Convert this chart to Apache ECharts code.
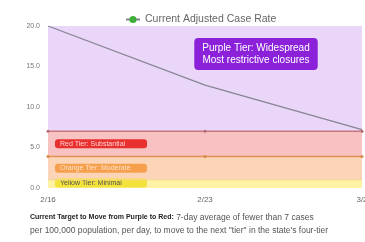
<!DOCTYPE html>
<html>
<head>
<meta charset="utf-8">
<script src="https://cdn.jsdelivr.net/npm/echarts@6/dist/echarts.min.js"></script>
<style>
  html, body { margin: 0; padding: 0; background: #fff; }
  #chart { width: 365px; height: 242px; }
</style>
</head>
<body>
<div id="chart"></div>
<script>
var dates = ['2/16', '2/23', '3/2'];
var caseRate = [20.0, 12.7, 7.2];
var redLine = [7, 7, 7];
var orangeLine = [3.9, 3.9, 3.9];
var yellowLine = [1, 1, 1];
// tiers: [from, to, label]
var tierPurple = [7, 20, 'Purple Tier: Widespread\nMost restrictive closures'];
var tierRed = [3.9, 7, 'Red Tier: Substantial'];
var tierOrange = [1, 3.9, 'Orange Tier: Moderate'];
var tierYellow = [0, 1, 'Yellow Tier: Minimal'];

var myChart = echarts.init(document.getElementById('chart'));

function tierLabel(bg, fg, offset) {
  return {
    show: true,
    position: 'insideLeft',
    offset: offset,
    backgroundColor: bg,
    color: fg,
    fontSize: 7,
    fontFamily: 'Liberation Sans',
    padding: [1, 5],
    width: 82,
    borderRadius: 3
  };
}

var option = {
  animation: false,
  legend: {
    top: 9,
    left: 120,
    data: ['Current Adjusted Case Rate'],
    itemWidth: 14,
    itemHeight: 9,
    textStyle: { fontSize: 10.5, color: '#666', fontFamily: 'Liberation Sans' }
  },
  grid: { left: 48, right: 3, top: 26, bottom: 54, outerBoundsMode: 'none' },
  xAxis: {
    type: 'category',
    boundaryGap: false,
    data: dates,
    axisLine: { show: false },
    axisTick: { show: false },
    axisLabel: { fontSize: 8, color: '#666', margin: 8 }
  },
  yAxis: {
    type: 'value',
    min: 0,
    max: 20,
    interval: 5,
    axisLine: { show: false },
    axisTick: { show: false },
    splitLine: { show: false },
    axisLabel: {
      fontSize: 7, color: '#777', margin: 8,
      formatter: function (v) { return v.toFixed(1); }
    }
  },
  series: [
    {
      name: 'Current Adjusted Case Rate',
      type: 'line',
      data: caseRate,
      symbol: 'circle',
      symbolSize: 6,
      showSymbol: false,
      itemStyle: { color: '#3fae3a' },
      lineStyle: { color: '#858594', width: 1.2 },
      z: 5,
      markArea: {
        silent: true,
        data: [
          [{ name: tierPurple[2], yAxis: tierPurple[0], itemStyle: { color: '#e9d6f8' },
             label: {
               show: true, position: 'insideTop', offset: [51, 7],
               backgroundColor: '#8b22d9', color: '#fff', fontSize: 10,
               fontFamily: 'Liberation Sans', lineHeight: 12,
               padding: [4, 8], borderRadius: 4
             } },
           { yAxis: tierPurple[1] }],
          [{ name: tierRed[2], yAxis: tierRed[0], itemStyle: { color: '#f8c2c3' },
             label: tierLabel('#e8302e', '#ffd2d2', [2, 0]) },
           { yAxis: tierRed[1] }],
          [{ name: tierOrange[2], yAxis: tierOrange[0], itemStyle: { color: '#fcd4b8' },
             label: tierLabel('#f6a04e', '#ffe2c6', [2, 0]) },
           { yAxis: tierOrange[1] }],
          [{ name: tierYellow[2], yAxis: tierYellow[0], itemStyle: { color: '#fdf2a6' },
             label: tierLabel('#f3e23c', '#555', [2, -1]) },
           { yAxis: tierYellow[1] }]
        ]
      }
    },
    {
      name: 'red',
      type: 'line',
      data: redLine,
      symbol: 'circle',
      symbolSize: 3,
      itemStyle: { color: '#b86a70' },
      lineStyle: { color: '#c7787c', width: 1.5 },
      silent: true
    },
    {
      name: 'orange',
      type: 'line',
      data: orangeLine,
      symbol: 'circle',
      symbolSize: 3,
      itemStyle: { color: '#d98a48' },
      lineStyle: { color: '#e09250', width: 1.5 },
      silent: true
    },
    {
      name: 'yellow',
      type: 'line',
      data: yellowLine,
      symbol: 'none',
      lineStyle: { color: '#f6d98a', width: 1 },
      silent: true
    }
  ],
  graphic: [
    {
      type: 'text',
      left: 30,
      top: 211,
      style: {
        text: '{b|Current Target to Move from Purple to Red:} 7-day average of fewer than 7 cases\nper 100,000 population, per day, to move to the next "tier" in the state\'s four-tier',
        fontSize: 8.5,
        lineHeight: 13,
        fill: '#555',
        fontFamily: 'Liberation Sans',
        rich: {
          b: { fontWeight: 'bold', fontSize: 7, fill: '#222', fontFamily: 'Liberation Sans' }
        }
      }
    }
  ]
};

myChart.setOption(option);
</script>
</body>
</html>
